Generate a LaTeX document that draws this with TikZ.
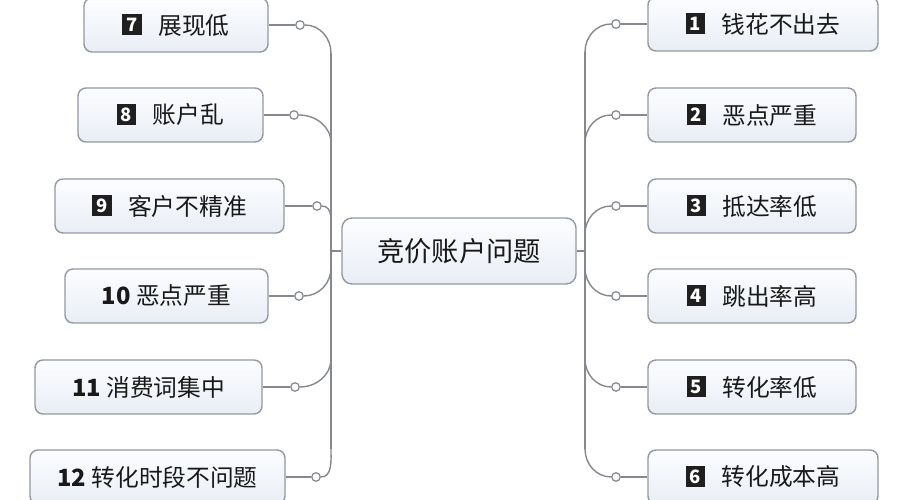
\documentclass[tikz,border=0pt]{standalone}
\usepackage{fontspec}
\setmainfont{Noto Sans CJK SC}

\definecolor{linegray}{HTML}{85898F}
\definecolor{boxedge}{HTML}{9499A0}
\definecolor{boxtop}{HTML}{FCFDFF}
\definecolor{boxbottom}{HTML}{E9EEF5}
\definecolor{tagblack}{HTML}{1F1F1F}

\newcommand{\numtag}[1]{\raisebox{1.4pt}{\setlength{\fboxsep}{2pt}\colorbox{tagblack}{\rule{0pt}{8pt}\makebox[7pt]{\fontsize{10.5}{10.5}\selectfont\bfseries\color{white}#1}}}\hspace{0.7em}}

\begin{document}
\begin{tikzpicture}[
		topic/.style={draw=boxedge, line width=0.8pt, rounded corners=0.2cm, top color=boxtop, bottom color=boxbottom, minimum width=4.68cm, minimum height=1.32cm, font=\fontsize{15.5}{18}\selectfont, text=black!90},
		branch/.style={draw=boxedge, line width=0.8pt, rounded corners=0.16cm, top color=boxtop, bottom color=boxbottom, minimum height=1.08cm, font=\fontsize{13.5}{15}\selectfont, text=black!90},
		knot/.style={circle, draw=linegray, fill=white, line width=0.7pt, inner sep=0pt, minimum size=0.17cm},
		wire/.style={draw=linegray, line width=0.8pt}
	]
		\useasboundingbox[fill=white] (0,0) rectangle (18,10);
		% Central topic and trunks:
		\node[topic] (c) at (9.18, 4.98){竞价账户问题};
		\coordinate (lt) at (6.62, 4.98);
		\coordinate (rt) at (11.7, 4.98);
		% Left side boxes:
		\node[branch, minimum width=3.68cm] (b7) at (3.52, 9.5){\numtag{7}展现低};
		\node[branch, minimum width=3.70cm] (b8) at (3.41, 7.7){\numtag{8}账户乱};
		\node[branch, minimum width=4.58cm] (b9) at (3.39, 5.88){\numtag{9}客户不精准};
		\node[branch, minimum width=4.06cm] (b10) at (3.33, 4.08){{\bfseries 10} 恶点严重};
		\node[branch, minimum width=4.54cm] (b11) at (2.97, 2.26){{\bfseries 11} 消费词集中};
		\node[branch, minimum width=5.10cm] (b12) at (3.15, 0.46){{\bfseries 12} 转化时段不问题};
		% Right side boxes:
		\node[branch, minimum width=4.60cm] (b1) at (15.26, 9.52){\numtag{1}钱花不出去};
		\node[branch, minimum width=4.16cm] (b2) at (15.04, 7.7){\numtag{2}恶点严重};
		\node[branch, minimum width=4.16cm] (b3) at (15.04, 5.88){\numtag{3}抵达率低};
		\node[branch, minimum width=4.16cm] (b4) at (15.04, 4.08){\numtag{4}跳出率高};
		\node[branch, minimum width=4.16cm] (b5) at (15.04, 2.26){\numtag{5}转化率低};
		\node[branch, minimum width=4.60cm] (b6) at (15.26, 0.46){\numtag{6}转化成本高};
		% Knots on the wires:
		\node[knot] (d7) at (6.0, 9.5){};
		\node[knot] (d8) at (5.88, 7.7){};
		\node[knot] (d9) at (6.34, 5.88){};
		\node[knot] (d10) at (5.98, 4.08){};
		\node[knot] (d11) at (5.9, 2.26){};
		\node[knot] (d12) at (6.32, 0.46){};
		\node[knot] (d1) at (12.32, 9.52){};
		\node[knot] (d2) at (12.32, 7.7){};
		\node[knot] (d3) at (12.32, 5.88){};
		\node[knot] (d4) at (12.32, 4.08){};
		\node[knot] (d5) at (12.32, 2.26){};
		\node[knot] (d6) at (12.32, 0.46){};
		% Trunk ends:
		\coordinate (t7) at (6.62, 8.94);
		\coordinate (t8) at (6.62, 7.14);
		\coordinate (t9) at (6.62, 5.32);
		\coordinate (t10) at (6.62, 4.64);
		\coordinate (t11) at (6.62, 2.82);
		\coordinate (t12) at (6.62, 1.02);
		\coordinate (t1) at (11.7, 8.96);
		\coordinate (t2) at (11.7, 7.14);
		\coordinate (t3) at (11.7, 5.32);
		\coordinate (t4) at (11.7, 4.64);
		\coordinate (t5) at (11.7, 2.82);
		\coordinate (t6) at (11.7, 1.02);
		% Wires:
		\draw[wire] (c.west) -- (lt);
		\draw[wire] (c.east) -- (rt);
		\draw[wire] (t7) -- (t12);
		\draw[wire] (t1) -- (t6);
		\foreach \n in {7,8,9}{
			\draw[wire] (b\n.east) -- (d\n);
			\draw[wire] (d\n) to[out=0, in=90] (t\n);
		}
		\foreach \n in {10,11,12}{
			\draw[wire] (b\n.east) -- (d\n);
			\draw[wire] (d\n) to[out=0, in=-90] (t\n);
		}
		\foreach \n in {1,2,3}{
			\draw[wire] (d\n) -- (b\n.west);
			\draw[wire] (t\n) to[out=90, in=180] (d\n);
		}
		\foreach \n in {4,5,6}{
			\draw[wire] (d\n) -- (b\n.west);
			\draw[wire] (t\n) to[out=-90, in=180] (d\n);
		}
	\end{tikzpicture}
\end{document}
